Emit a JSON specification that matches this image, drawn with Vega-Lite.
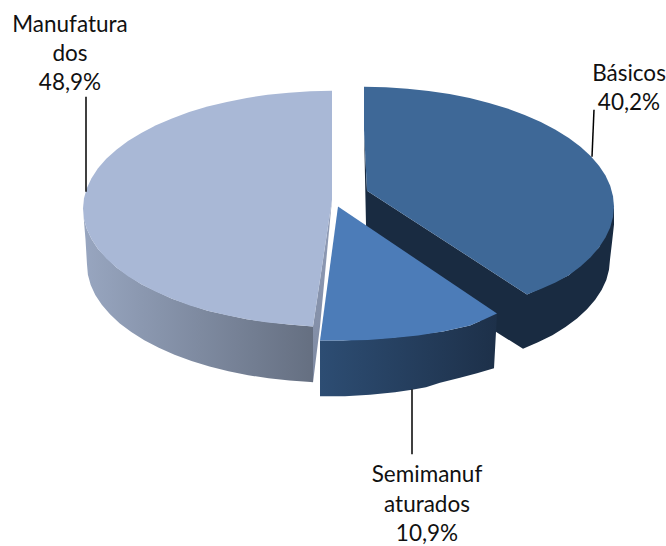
{"$schema":"https://vega.github.io/schema/vega-lite/v6.json","width":666,"height":546,"autosize":{"type":"fit","contains":"padding"},"padding":0,"background":"white","view":{"stroke":null},
"datasets":{
"b_side":[{"i":1,"x":364,"y":130},{"i":2,"x":367,"y":191},{"i":3,"x":527,"y":295},{"i":4,"x":568.8,"y":275.8},{"i":5,"x":599,"y":248},{"i":6,"x":614,"y":207},{"i":7,"x":614,"y":225},{"i":8,"x":612,"y":243},{"i":9,"x":610,"y":260},{"i":10,"x":609,"y":270.3},{"i":11,"x":606.3,"y":280.5},{"i":12,"x":601.6,"y":290.5},{"i":13,"x":595.2,"y":300.4},{"i":14,"x":587,"y":309.9},{"i":15,"x":577,"y":319},{"i":16,"x":565.5,"y":327.7},{"i":17,"x":552.4,"y":335.8},{"i":18,"x":538,"y":343},{"i":19,"x":523,"y":349.5},{"i":20,"x":497,"y":333},{"i":21,"x":367,"y":240},{"i":22,"x":366,"y":225}],
"b_top":[{"i":1,"x":364,"y":87},{"i":2,"x":385.8,"y":87.5},{"i":3,"x":407.4,"y":88.8},{"i":4,"x":428.7,"y":91.1},{"i":5,"x":449.5,"y":94.2},{"i":6,"x":469.7,"y":98.2},{"i":7,"x":489,"y":103.1},{"i":8,"x":507.4,"y":108.7},{"i":9,"x":524.7,"y":115.1},{"i":10,"x":540.8,"y":122.1},{"i":11,"x":555.5,"y":129.9},{"i":12,"x":568.8,"y":138.2},{"i":13,"x":580.5,"y":147},{"i":14,"x":590.6,"y":156.3},{"i":15,"x":599,"y":166},{"i":16,"x":605.5,"y":175.9},{"i":17,"x":610.2,"y":186.2},{"i":18,"x":613,"y":196.5},{"i":19,"x":614,"y":207},{"i":20,"x":613,"y":217.5},{"i":21,"x":610.2,"y":227.8},{"i":22,"x":605.5,"y":238},{"i":23,"x":599,"y":248},{"i":24,"x":590.6,"y":257.7},{"i":25,"x":580.5,"y":267},{"i":26,"x":568.8,"y":275.8},{"i":27,"x":555.5,"y":283},{"i":28,"x":540.8,"y":289.5},{"i":29,"x":527,"y":295},{"i":30,"x":367,"y":191},{"i":31,"x":364,"y":130}],
"m_side":[{"i":1,"x":83,"y":209},{"i":2,"x":84,"y":219.3},{"i":3,"x":86.8,"y":229.5},{"i":4,"x":91.5,"y":239.5},{"i":5,"x":98,"y":249.4},{"i":6,"x":116.4,"y":268},{"i":7,"x":141.3,"y":284.8},{"i":8,"x":172,"y":299.4},{"i":9,"x":207.5,"y":311.2},{"i":10,"x":246.8,"y":319.9},{"i":11,"x":288.8,"y":325.2},{"i":12,"x":313,"y":327},{"i":13,"x":313,"y":383},{"i":14,"x":310.6,"y":382.6},{"i":15,"x":289.5,"y":381.2},{"i":16,"x":268.6,"y":379},{"i":17,"x":248.2,"y":375.9},{"i":18,"x":228.5,"y":371.9},{"i":19,"x":209.5,"y":367.2},{"i":20,"x":191.5,"y":361.7},{"i":21,"x":174.5,"y":355.4},{"i":22,"x":158.8,"y":348.4},{"i":23,"x":144.3,"y":340.8},{"i":24,"x":131.3,"y":332.7},{"i":25,"x":119.8,"y":324},{"i":26,"x":110,"y":314.9},{"i":27,"x":101.8,"y":305.4},{"i":28,"x":95.3,"y":295.5},{"i":29,"x":90.7,"y":285.5},{"i":30,"x":87.9,"y":275.3},{"i":31,"x":87,"y":265},{"i":32,"x":85.5,"y":240},{"i":33,"x":84,"y":222}],
"m_inner":[{"i":1,"x":332,"y":200},{"i":2,"x":313,"y":327},{"i":3,"x":313,"y":383},{"i":4,"x":320,"y":327}],
"m_top":[{"i":1,"x":332,"y":91},{"i":2,"x":310.3,"y":91.4},{"i":3,"x":288.8,"y":92.8},{"i":4,"x":267.6,"y":95},{"i":5,"x":246.8,"y":98.1},{"i":6,"x":226.8,"y":102.1},{"i":7,"x":207.5,"y":106.8},{"i":8,"x":189.2,"y":112.3},{"i":9,"x":172,"y":118.6},{"i":10,"x":156,"y":125.6},{"i":11,"x":141.3,"y":133.2},{"i":12,"x":128,"y":141.3},{"i":13,"x":116.4,"y":150},{"i":14,"x":106.3,"y":159.1},{"i":15,"x":98,"y":168.6},{"i":16,"x":91.5,"y":178.5},{"i":17,"x":86.8,"y":188.5},{"i":18,"x":84,"y":198.7},{"i":19,"x":83,"y":209},{"i":20,"x":84,"y":219.3},{"i":21,"x":86.8,"y":229.5},{"i":22,"x":91.5,"y":239.5},{"i":23,"x":98,"y":249.4},{"i":24,"x":106.3,"y":258.9},{"i":25,"x":116.4,"y":268},{"i":26,"x":128,"y":276.7},{"i":27,"x":141.3,"y":284.8},{"i":28,"x":156,"y":292.4},{"i":29,"x":172,"y":299.4},{"i":30,"x":189.2,"y":305.7},{"i":31,"x":207.5,"y":311.2},{"i":32,"x":226.8,"y":315.9},{"i":33,"x":246.8,"y":319.9},{"i":34,"x":267.6,"y":323},{"i":35,"x":288.8,"y":325.2},{"i":36,"x":313,"y":327},{"i":37,"x":332,"y":200}],
"s_side":[{"i":1,"x":320,"y":341},{"i":2,"x":343,"y":341},{"i":3,"x":393,"y":338},{"i":4,"x":443,"y":332},{"i":5,"x":470,"y":326},{"i":6,"x":497,"y":314},{"i":7,"x":494,"y":369},{"i":8,"x":477,"y":374},{"i":9,"x":460,"y":378.5},{"i":10,"x":440,"y":383.5},{"i":11,"x":426,"y":388},{"i":12,"x":412,"y":390.5},{"i":13,"x":395,"y":393},{"i":14,"x":370,"y":395.5},{"i":15,"x":345,"y":397},{"i":16,"x":320,"y":397}],
"s_top":[{"i":1,"x":338,"y":207},{"i":2,"x":497,"y":314},{"i":3,"x":484,"y":320},{"i":4,"x":470,"y":326},{"i":5,"x":443,"y":332},{"i":6,"x":418,"y":336},{"i":7,"x":393,"y":338.5},{"i":8,"x":368,"y":340.5},{"i":9,"x":343,"y":341},{"i":10,"x":320,"y":341}],
"leaders":[{"slice":"Manufaturados","x":86,"y":97,"x2":86,"y2":192},{"slice":"Básicos","x":594,"y":110,"x2":592,"y2":157},{"slice":"Semimanufaturados","x":412,"y":390,"x2":412,"y2":455}],
"labels":[{"slice":"Manufaturados","t":"Manufatura","x":70,"y":32},{"slice":"Manufaturados","t":"dos","x":70,"y":61},{"slice":"Manufaturados","t":"48,9%","x":70,"y":90},{"slice":"Básicos","t":"Básicos","x":629,"y":81},{"slice":"Básicos","t":"40,2%","x":629,"y":110},{"slice":"Semimanufaturados","t":"Semimanuf","x":427,"y":483},{"slice":"Semimanufaturados","t":"aturados","x":427,"y":513},{"slice":"Semimanufaturados","t":"10,9%","x":427,"y":542}]
},
"encoding":{"x":{"field":"x","type":"quantitative","scale":{"domain":[0,666],"nice":false,"zero":false},"axis":null},"y":{"field":"y","type":"quantitative","scale":{"domain":[546,0],"nice":false,"zero":false},"axis":null}},
"layer":[
{"data":{"name":"b_side"},"mark":{"type":"line","fill":"#192b41","strokeWidth":0,"interpolate":"linear-closed"},"encoding":{"order":{"field":"i"}}},
{"data":{"name":"b_top"},"mark":{"type":"line","fill":"#3e6897","strokeWidth":0,"interpolate":"linear-closed"},"encoding":{"order":{"field":"i"}}},
{"data":{"name":"m_side"},"mark":{"type":"line","fill":{"gradient":"linear","x1":0,"y1":0,"x2":1,"y2":0,"stops":[{"offset":0,"color":"#98a6c0"},{"offset":1,"color":"#656f81"}]},"strokeWidth":0,"interpolate":"linear-closed"},"encoding":{"order":{"field":"i"}}},
{"data":{"name":"m_inner"},"mark":{"type":"line","fill":{"gradient":"linear","x1":0,"y1":0,"x2":0,"y2":1,"stops":[{"offset":0,"color":"#919db8"},{"offset":1,"color":"#7e8aa2"}]},"strokeWidth":0,"interpolate":"linear-closed"},"encoding":{"order":{"field":"i"}}},
{"data":{"name":"m_top"},"mark":{"type":"line","fill":"#a9b8d6","strokeWidth":0,"interpolate":"linear-closed"},"encoding":{"order":{"field":"i"}}},
{"data":{"name":"s_side"},"mark":{"type":"line","fill":{"gradient":"linear","x1":0,"y1":0,"x2":1,"y2":0,"stops":[{"offset":0,"color":"#2d4d73"},{"offset":1,"color":"#1d3049"}]},"strokeWidth":0,"interpolate":"linear-closed"},"encoding":{"order":{"field":"i"}}},
{"data":{"name":"s_top"},"mark":{"type":"line","fill":"#4c7cb8","strokeWidth":0,"interpolate":"linear-closed"},"encoding":{"order":{"field":"i"}}},
{"data":{"name":"leaders"},"mark":{"type":"rule","color":"#000000","strokeWidth":1.5},"encoding":{"x2":{"field":"x2"},"y2":{"field":"y2"}}},
{"data":{"name":"labels"},"mark":{"type":"text","font":"Lato","fontSize":22.5,"color":"#111111","align":"center","baseline":"alphabetic"},"encoding":{"text":{"field":"t","type":"nominal"}}}
]}
